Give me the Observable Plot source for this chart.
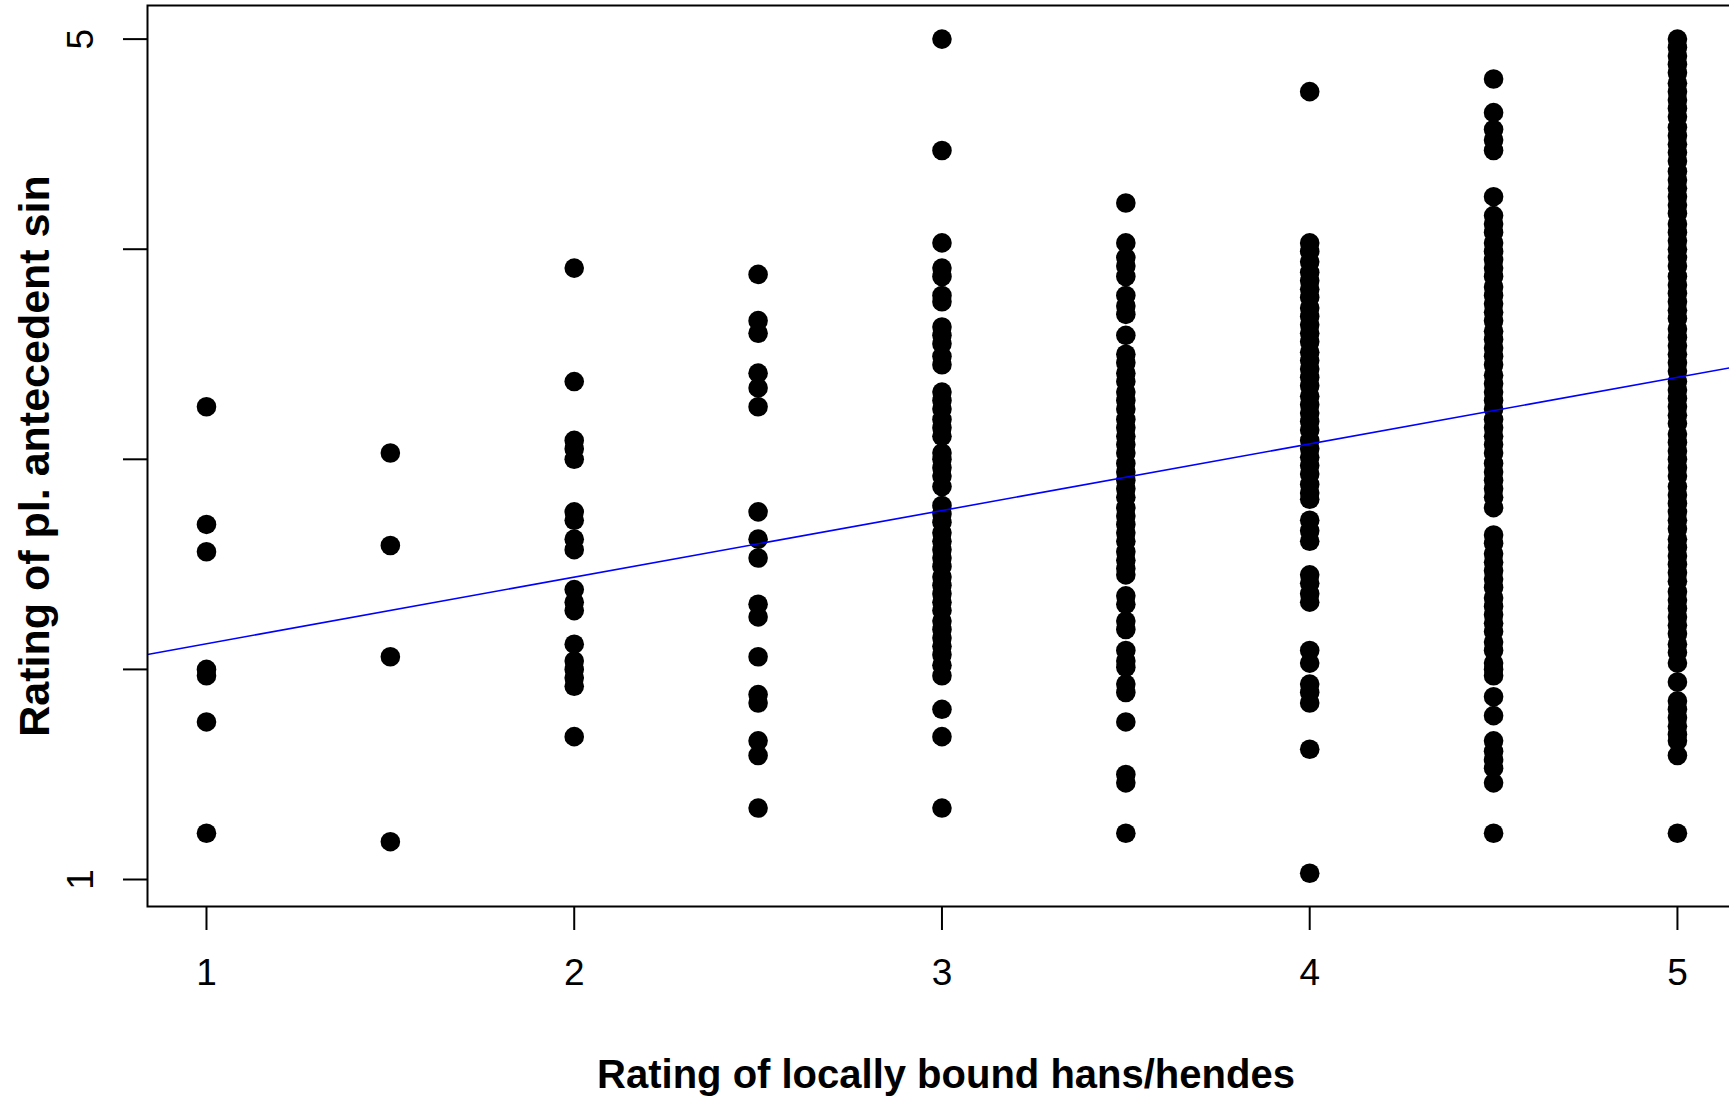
<!DOCTYPE html>
<html>
<head>
<meta charset="utf-8">
<script src="https://cdn.jsdelivr.net/npm/d3@7"></script>
<script src="https://cdn.jsdelivr.net/npm/@observablehq/plot@0.6"></script>
<style>
  html, body { margin: 0; padding: 0; background: white; overflow: hidden; }
  #chart { width: 1729px; height: 1099px; overflow: hidden; }
</style>
</head>
<body>
<div id="chart"></div>
<script>
// Rating of locally bound hans/hendes (x) vs rating of pl. antecedent sin (y)
const xLevels = [1, 1.5, 2, 2.5, 3, 3.5, 4, 4.5, 5];
const y_1 = [3.25, 2.69, 2.56, 2.00, 1.97, 1.75, 1.22];
const y_1_5 = [3.03, 2.59, 2.06, 1.18];
const y_2 = [3.91, 3.37, 3.09, 3.05, 3.00, 2.75, 2.71, 2.62, 2.57, 2.38, 2.32, 2.28, 2.12, 2.04, 2.00, 1.96, 1.92, 1.68];
const y_2_5 = [3.88, 3.66, 3.60, 3.41, 3.34, 3.25, 2.75, 2.62, 2.53, 2.31, 2.25, 2.06, 1.88, 1.84, 1.66, 1.59, 1.34];
const y_3 = [5.00, 4.47, 4.03, 3.91, 3.87, 3.78, 3.75, 3.63, 3.59, 3.55, 3.49, 3.45,
  3.32, 3.28, 3.24, 3.19, 3.15, 3.11, 3.03, 3.00, 2.96, 2.92, 2.87, 2.78, 2.74, 2.70,
  2.65, 2.61, 2.57, 2.53, 2.49, 2.44, 2.40, 2.36, 2.32, 2.28, 2.23, 2.19, 2.15, 2.11,
  2.07, 2.02, 1.97, 1.81, 1.68, 1.34];
const y_3_5 = [4.22, 4.03, 3.96, 3.92, 3.87, 3.78, 3.73, 3.69, 3.59, 3.50, 3.46, 3.41,
  3.37, 3.32, 3.28, 3.24, 3.19, 3.15, 3.11, 3.07, 3.03, 2.98, 2.94, 2.90, 2.86, 2.82,
  2.77, 2.73, 2.69, 2.65, 2.61, 2.56, 2.52, 2.48, 2.45, 2.35, 2.31, 2.23, 2.19, 2.09,
  2.04, 2.01, 1.93, 1.89, 1.75, 1.50, 1.46, 1.22];
const y_4 = [4.75, 4.03, 3.99, 3.94, 3.89, 3.85, 3.81, 3.77, 3.72, 3.68, 3.64, 3.60,
  3.56, 3.51, 3.47, 3.43, 3.39, 3.35, 3.30, 3.26, 3.22, 3.18, 3.14, 3.09, 3.05, 3.01,
  2.97, 2.93, 2.88, 2.84, 2.81, 2.71, 2.66, 2.61, 2.45, 2.41, 2.36, 2.32, 2.09, 2.03,
  1.93, 1.89, 1.84, 1.62, 1.03];
const y_4_5 = [4.81, 4.65, 4.57, 4.52, 4.47, 4.25, 4.16, 4.12, 4.08, 4.03, 3.99, 3.95,
  3.91, 3.87, 3.82, 3.78, 3.74, 3.70, 3.66, 3.61, 3.57, 3.53, 3.49, 3.45, 3.40, 3.36,
  3.32, 3.28, 3.24, 3.19, 3.15, 3.11, 3.07, 3.03, 2.98, 2.94, 2.90, 2.86, 2.82, 2.77,
  2.64, 2.60, 2.55, 2.51, 2.47, 2.43, 2.39, 2.34, 2.30, 2.26, 2.22, 2.18, 2.13, 2.09,
  2.03, 2.00, 1.97, 1.87, 1.78, 1.66, 1.61, 1.57, 1.53, 1.46, 1.22];
const y_5 = [5.00, 4.96, 4.92, 4.88, 4.84, 4.79, 4.75, 4.71, 4.67, 4.63, 4.58, 4.54,
  4.50, 4.46, 4.42, 4.37, 4.33, 4.29, 4.25, 4.21, 4.17, 4.12, 4.08, 4.04, 4.00, 3.96,
  3.92, 3.87, 3.83, 3.79, 3.75, 3.71, 3.67, 3.62, 3.58, 3.54, 3.50, 3.46, 3.42, 3.37,
  3.33, 3.29, 3.25, 3.21, 3.17, 3.12, 3.08, 3.04, 3.00, 2.96, 2.92, 2.87, 2.83, 2.79,
  2.75, 2.71, 2.67, 2.62, 2.58, 2.54, 2.50, 2.46, 2.42, 2.37, 2.33, 2.29, 2.25, 2.21,
  2.17, 2.12, 2.08, 2.03, 1.94, 1.85, 1.81, 1.77, 1.73, 1.69, 1.66, 1.59, 1.22];
const yByLevel = [y_1, y_1_5, y_2, y_2_5, y_3, y_3_5, y_4, y_4_5, y_5];

// fitted regression line (blue)
const fitIntercept = 1.805;
const fitSlope = 0.317;

const xTicks = [1, 2, 3, 4, 5];
const yTicks = [1, 2, 3, 4, 5];
const yTickLabels = [1, 5];
const xTitle = "Rating of locally bound hans/hendes";
const yTitle = "Rating of pl. antecedent sin";
const xDomain = [0.8396, 5.1606];
const yDomain = [0.8715, 5.16];

const points = xLevels.flatMap((x, i) => yByLevel[i].map(y => ({x, y})));
const fit = xDomain.map(x => ({x, y: fitIntercept + fitSlope * x}));

const font = "'Liberation Sans', Arial, Helvetica, sans-serif";

const chart = Plot.plot({
  width: 1729,
  height: 1099,
  marginLeft: 147,
  marginRight: -7,
  marginTop: 5,
  marginBottom: 193,
  x: {domain: xDomain, axis: null},
  y: {domain: yDomain, axis: null},
  style: {fontFamily: font, background: "white", color: "black", overflow: "hidden"},
  marks: [
    Plot.dot(points, {x: "x", y: "y", r: 9.8, fill: "black", stroke: "none"}),
    Plot.line(fit, {x: "x", y: "y", stroke: "#0000ff", strokeWidth: 1.6, clip: true}),
    Plot.frame({stroke: "black", strokeWidth: 2}),
    Plot.axisX({ticks: xTicks, tickSize: 24, tickFormat: () => "", label: null, strokeWidth: 2, anchor: "bottom"}),
    Plot.axisY({ticks: yTicks, tickSize: 24, tickFormat: () => "", label: null, strokeWidth: 2, anchor: "left"}),
    Plot.text(xTicks, {x: d => d, text: d => String(d), frameAnchor: "bottom", dy: 67, lineAnchor: "middle", fontSize: 37, fill: "black"}),
    Plot.text(yTickLabels, {y: d => d, text: d => String(d), frameAnchor: "left", dx: -66, rotate: -90, textAnchor: "middle", lineAnchor: "middle", fontSize: 37, fill: "black"}),
    Plot.text([xTitle], {text: d => d, frameAnchor: "bottom", dx: 4, dy: 169, lineAnchor: "middle", fontSize: 40, fontWeight: "bold", fill: "black"}),
    Plot.text([yTitle], {text: d => d, frameAnchor: "left", dx: -112, rotate: -90, textAnchor: "middle", lineAnchor: "middle", fontSize: 43, fontWeight: "bold", fill: "black"})
  ]
});
document.getElementById("chart").appendChild(chart);
</script>
</body>
</html>
